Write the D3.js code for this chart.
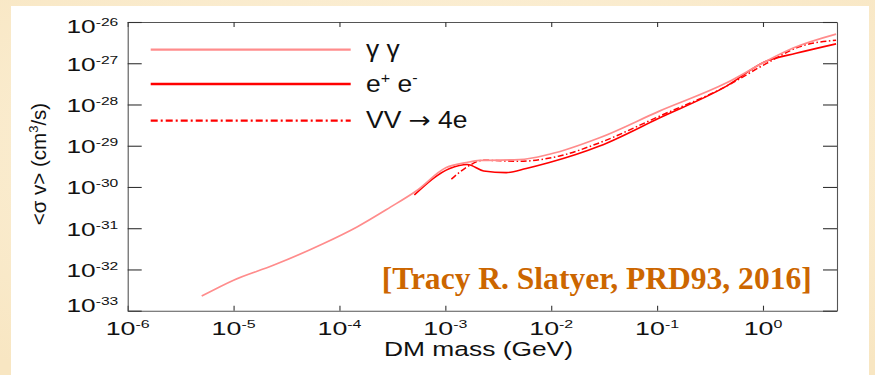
<!DOCTYPE html>
<html>
<head>
<meta charset="utf-8">
<script src="https://cdn.jsdelivr.net/npm/d3@7"></script>
<style>
  html, body { margin: 0; padding: 0; }
  body { width: 875px; height: 375px; overflow: hidden; }
  svg { display: block; }
  text { font-family: "Liberation Sans", Arial, Helvetica, sans-serif; fill: #111; }
</style>
</head>
<body>
<svg id="chart" width="875" height="375"></svg>
<script>
// ---------- data ----------
const xTickValues = [1e-6, 1e-5, 1e-4, 1e-3, 1e-2, 1e-1, 1e0];
const xTickExponents = ["-6", "-5", "-4", "-3", "-2", "-1", "0"];
const yTickValues = [1e-26, 1e-27, 1e-28, 1e-29, 1e-30, 1e-31, 1e-32, 1e-33];
const yTickExponents = ["-26", "-27", "-28", "-29", "-30", "-31", "-32", "-33"];

// gamma gamma channel
const ggMass  = [5e-6, 1e-5, 2.37e-5, 7e-5, 1.45e-4, 3e-4, 5.3e-4, 1.02e-3, 1.58e-3, 2.1e-3, 5e-3, 9.6e-3, 2.86e-2, 0.105, 0.448, 1.07, 1.9, 4.9];
const ggSigma = [2.26e-33, 5.5e-33, 1.26e-32, 4.2e-32, 1.06e-31, 3.2e-31, 8.0e-31, 2.95e-30, 3.9e-30, 4.4e-30, 4.6e-30, 6.2e-30, 1.56e-29, 6.9e-29, 3.3e-28, 1.12e-27, 2.3e-27, 5.1e-27];

// e+ e- channel
const eeMass  = [5.1e-4, 1.1e-3, 1.62e-3, 2.3e-3, 3.76e-3, 5.8e-3, 9.6e-3, 2.86e-2, 0.105, 0.448, 1.07, 2.05, 4.9];
const eeSigma = [6.4e-31, 2.8e-30, 3.5e-30, 2.45e-30, 2.23e-30, 2.8e-30, 3.9e-30, 9.8e-30, 4.7e-29, 2.75e-28, 1.12e-27, 1.74e-27, 2.95e-27];

// VV -> 4e channel
const vvMass  = [1.14e-3, 1.69e-3, 2.26e-3, 5e-3, 1.2e-2, 2.86e-2, 0.105, 0.448, 1.07, 2.2, 4.9];
const vvSigma = [1.55e-30, 3.33e-30, 4.45e-30, 4.2e-30, 5.65e-30, 1.18e-29, 5.2e-29, 2.75e-28, 9.8e-28, 2.5e-27, 3.6e-27];

const seriesNames = ["\u03B3 \u03B3", "e+ e-", "VV \u2192 4e"];
const xLabel = "DM mass (GeV)";
const citation = "[Tracy R. Slatyer, PRD93, 2016]";

// ---------- drawing ----------
const svg = d3.select("#chart");

// background
const defs = svg.append("defs");
const rg = defs.append("radialGradient").attr("id", "bg").attr("cx", "50%").attr("cy", "40%").attr("r", "75%");
rg.append("stop").attr("offset", "0%").attr("stop-color", "#fdf4e0");
rg.append("stop").attr("offset", "100%").attr("stop-color", "#f8e6c2");
svg.append("rect").attr("width", 875).attr("height", 375).attr("fill", "url(#bg)");
svg.append("rect").attr("x", 11).attr("y", 6).attr("width", 858).attr("height", 375).attr("fill", "#ffffff");

const L = 127.7, R = 837, T = 22, B = 310.7;
const x = d3.scaleLog().domain([1e-6, 5]).range([L, R]);
const y = d3.scaleLog().domain([1e-33, 1e-26]).range([B, T]);

defs.append("clipPath").attr("id", "plotclip")
  .append("rect").attr("x", L).attr("y", T).attr("width", R - L).attr("height", B - T);

// ticks
const tickColor = "#333";
const gB = svg.append("g").attr("transform", `translate(0,${B})`)
  .call(d3.axisBottom(x).tickValues(xTickValues).tickSize(-5).tickSizeOuter(0).tickFormat(""));
const gT = svg.append("g").attr("transform", `translate(0,${T})`)
  .call(d3.axisTop(x).tickValues(xTickValues).tickSize(-5).tickSizeOuter(0).tickFormat(""));
const gL = svg.append("g").attr("transform", `translate(${L},0)`)
  .call(d3.axisLeft(y).tickValues(yTickValues).tickSize(-14).tickSizeOuter(0).tickFormat(""));
const gR = svg.append("g").attr("transform", `translate(${R},0)`)
  .call(d3.axisRight(y).tickValues(yTickValues).tickSize(-14).tickSizeOuter(0).tickFormat(""));
[gB, gT, gL, gR].forEach(g => {
  g.selectAll("line").attr("stroke", tickColor).attr("stroke-width", 1.1);
  g.select(".domain").attr("stroke", "#555").attr("stroke-width", 1.1);
});

// x tick labels
xTickValues.forEach((v, i) => {
  const g = svg.append("g").attr("transform", `translate(${x(v)},335) scale(1.45,1)`);
  const t = g.append("text").attr("text-anchor", "middle").attr("font-size", 18.5);
  t.append("tspan").text("10");
  t.append("tspan").attr("font-size", 11).attr("dy", -7).text(xTickExponents[i]);
});

// y tick labels
yTickValues.forEach((v, i) => {
  let dy = 7.3;
  if (i === 0) dy = 11;
  if (i === yTickValues.length - 1) dy = 1;
  const g = svg.append("g").attr("transform", `translate(118.3,${y(v) + dy}) scale(1.42,1)`);
  const t = g.append("text").attr("text-anchor", "end").attr("font-size", 18.5);
  t.append("tspan").text("10");
  t.append("tspan").attr("font-size", 11).attr("dy", -7).text(yTickExponents[i]);
});

// axis titles
svg.append("text").attr("x", 478.5).attr("y", 356).attr("text-anchor", "middle")
  .attr("font-size", 20.5).attr("textLength", 189).attr("lengthAdjust", "spacingAndGlyphs")
  .text(xLabel);

const yl = svg.append("text").attr("transform", "translate(46,164) rotate(-90)")
  .attr("text-anchor", "middle").attr("font-size", 20.5);
yl.append("tspan").text("<\u03C3 v> (cm");
yl.append("tspan").attr("font-size", 13).attr("dy", -8).text("3");
yl.append("tspan").attr("dy", 8).text("/s)");

// curves
const line = d3.line().x(d => x(d[0])).y(d => y(d[1])).curve(d3.curveMonotoneX);
const plot = svg.append("g").attr("clip-path", "url(#plotclip)");
const ggData = d3.zip(ggMass, ggSigma);
const eeData = d3.zip(eeMass, eeSigma);
const vvData = d3.zip(vvMass, vvSigma);

const styles = [
  {stroke: "#ff8c8c", width: 1.7, dash: null},
  {stroke: "#ff0000", width: 1.6, dash: null},
  {stroke: "#ff0000", width: 1.5, dash: "6,2.5,1.5,2.5"}
];
const order = [1, 2, 0];
order.forEach(i => {
  const d = [ggData, eeData, vvData][i];
  plot.append("path").datum(d).attr("d", line)
    .attr("fill", "none").attr("stroke", styles[i].stroke)
    .attr("stroke-width", styles[i].width)
    .attr("stroke-dasharray", styles[i].dash)
    .attr("stroke-linejoin", "round");
});

// legend
const legY = [49.7, 84, 120.7];
const legW = [2.2, 2.6, 2.2];
legY.forEach((ly, i) => {
  svg.append("line").attr("x1", 150.7).attr("x2", 350.7).attr("y1", ly).attr("y2", ly)
    .attr("stroke", styles[i].stroke).attr("stroke-width", legW[i])
    .attr("stroke-dasharray", styles[i].dash ? "7,3,2,3" : null);
  const g = svg.append("g").attr("transform", `translate(366,${ly + 7.5}) scale(1.15,1)`);
  const t = g.append("text").attr("font-size", 23);
  if (i === 1) {
    t.append("tspan").text("e");
    t.append("tspan").attr("font-size", 14).attr("dy", -9).text("+");
    t.append("tspan").attr("dy", 9).text(" e");
    t.append("tspan").attr("font-size", 14).attr("dy", -9).text("-");
  } else if (i === 2) {
    const parts = seriesNames[2].split("\u2192");
    t.append("tspan").text(parts[0]);
    t.append("tspan").style("font-family", "'DejaVu Sans', sans-serif").text("\u2192");
    t.append("tspan").text(parts[1]);
  } else {
    t.text(seriesNames[i]);
  }
});

// citation
svg.append("text").attr("x", 381.7).attr("y", 288.5)
  .style("font-family", "'Liberation Serif', 'Times New Roman', serif")
  .style("font-weight", "bold").attr("font-size", 31)
  .attr("textLength", 430).attr("lengthAdjust", "spacingAndGlyphs")
  .style("fill", "#cc6600")
  .text(citation);
</script>
</body>
</html>
